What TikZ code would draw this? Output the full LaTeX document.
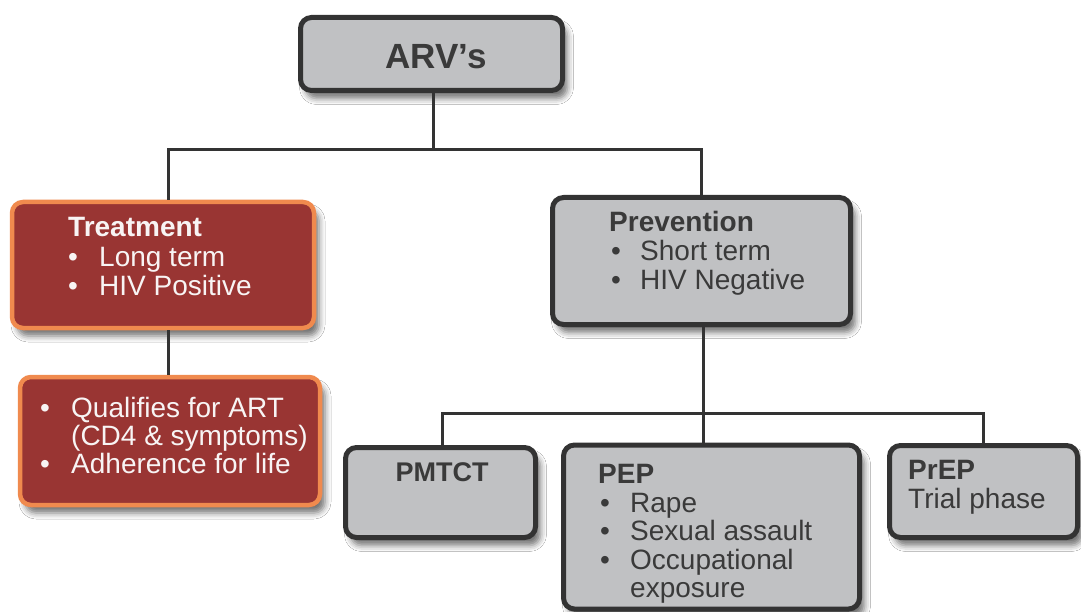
\documentclass[tikz,border=0pt]{standalone}
\usepackage{fontspec}
\setmainfont{Liberation Sans}
\usetikzlibrary{shadows.blur}
\definecolor{boxgray}{HTML}{C0C1C3}
\definecolor{boxdark}{HTML}{333333}
\definecolor{boxred}{HTML}{993533}
\definecolor{boxorange}{HTML}{F08A4E}
\definecolor{txtgray}{HTML}{3A3A3A}
\definecolor{txtwhite}{HTML}{F8F4F4}
\begin{document}
\begin{tikzpicture}[x=1pt,y=-1pt,
  box/.style={rounded corners=11pt, inner sep=0pt,
    blur shadow={shadow xshift=5pt, shadow yshift=-8pt, shadow blur radius=6pt, shadow opacity=55}},
  graybox/.style={box, draw=boxdark, line width=5pt, fill=boxgray},
  redbox/.style={box, draw=boxorange, line width=4.5pt, fill=boxred},
  txt/.style={anchor=base west, inner sep=0pt, font=\fontsize{28}{30}\selectfont},
  head/.style={anchor=base west, inner sep=0pt, font=\bfseries\fontsize{28}{30}\selectfont},
  gtxt/.style={txt, text=txtgray},
  ghead/.style={head, text=txtgray},
  wtxt/.style={txt, text=txtwhite},
  whead/.style={head, text=txtwhite},
  conn/.style={draw=boxdark, line width=3pt}]
\useasboundingbox (0,0) rectangle (1081,612);
\fill[white] (0,0) rectangle (1081,612);

% boxes
\node[graybox, minimum width=262pt, minimum height=73pt] (arv) at (431.5,54) {};
\node[redbox, minimum width=302pt, minimum height=126pt] (treat) at (163,265) {};
\node[redbox, minimum width=300pt, minimum height=128pt] (qual) at (170,441) {};
\node[graybox, minimum width=298pt, minimum height=127pt] (prev) at (701.5,261) {};
\node[graybox, minimum width=190pt, minimum height=90pt] (pmtct) at (440.5,492.5) {};
\node[graybox, minimum width=296pt, minimum height=164pt] (pep) at (711.5,527) {};
\node[graybox, minimum width=188pt, minimum height=92pt] (prep) at (983.5,491.5) {};

% connectors
\coordinate (j1) at (433,150);
\coordinate (j2) at (703,413);
\draw[conn] (arv.south -| j1) -- (j1);
\draw[conn] ([xshift=5pt]treat.north) |- (j1) -| (prev.north);
\draw[conn] ([xshift=5pt]treat.south) -- ([xshift=5pt]treat.south |- qual.north);
\draw[conn] (prev.south -| j2) -- (j2);
\draw[conn] ([xshift=2pt]pmtct.north) |- (j2) -| (prep.north);
\draw[conn] (j2) -- (j2 |- pep.north);

% texts
\node[anchor=base, inner sep=0pt, text=txtgray, font=\bfseries\fontsize{35}{37}\selectfont] (arvt) at (436,69) {ARV’s};

\node[whead] (treath) at (68,237) {Treatment};
\node[wtxt] (treatb1) at (68,267) {•};
\node[wtxt] (treatl1) at (99,267) {Long term};
\node[wtxt] (treatb2) at (68,295) {•};
\node[wtxt] (treatl2) at (99,295) {HIV Positive};

\node[wtxt] (qualb1) at (40,417) {•};
\node[wtxt] (quall1) at (71,417) {Qualifies for ART};
\node[wtxt] (quall2) at (71,445) {(CD4 \& symptoms)};
\node[wtxt] (qualb2) at (40,473) {•};
\node[wtxt] (quall3) at (71,473) {Adherence for life};

\node[ghead] (prevh) at (609,232) {Prevention};
\node[gtxt] (prevb1) at (611,261) {•};
\node[gtxt] (prevl1) at (640,261) {Short term};
\node[gtxt] (prevb2) at (611,289) {•};
\node[gtxt] (prevl2) at (640,289) {HIV Negative};

\node[anchor=base, inner sep=0pt, text=txtgray, font=\bfseries\fontsize{27}{29}\selectfont] (pmtctt) at (442,481) {PMTCT};

\node[ghead] (peph) at (598,483) {PEP};
\node[gtxt] (pepb1) at (600,512) {•};
\node[gtxt] (pepl1) at (630,512) {Rape};
\node[gtxt] (pepb2) at (600,540) {•};
\node[gtxt] (pepl2) at (630,540) {Sexual assault};
\node[gtxt] (pepb3) at (600,569) {•};
\node[gtxt] (pepl3) at (630,569) {Occupational};
\node[gtxt] (pepl4) at (630,597) {exposure};

\node[ghead] (preph) at (908,479) {PrEP};
\node[gtxt] (prepl1) at (908,508) {Trial phase};
\end{tikzpicture}
\end{document}
